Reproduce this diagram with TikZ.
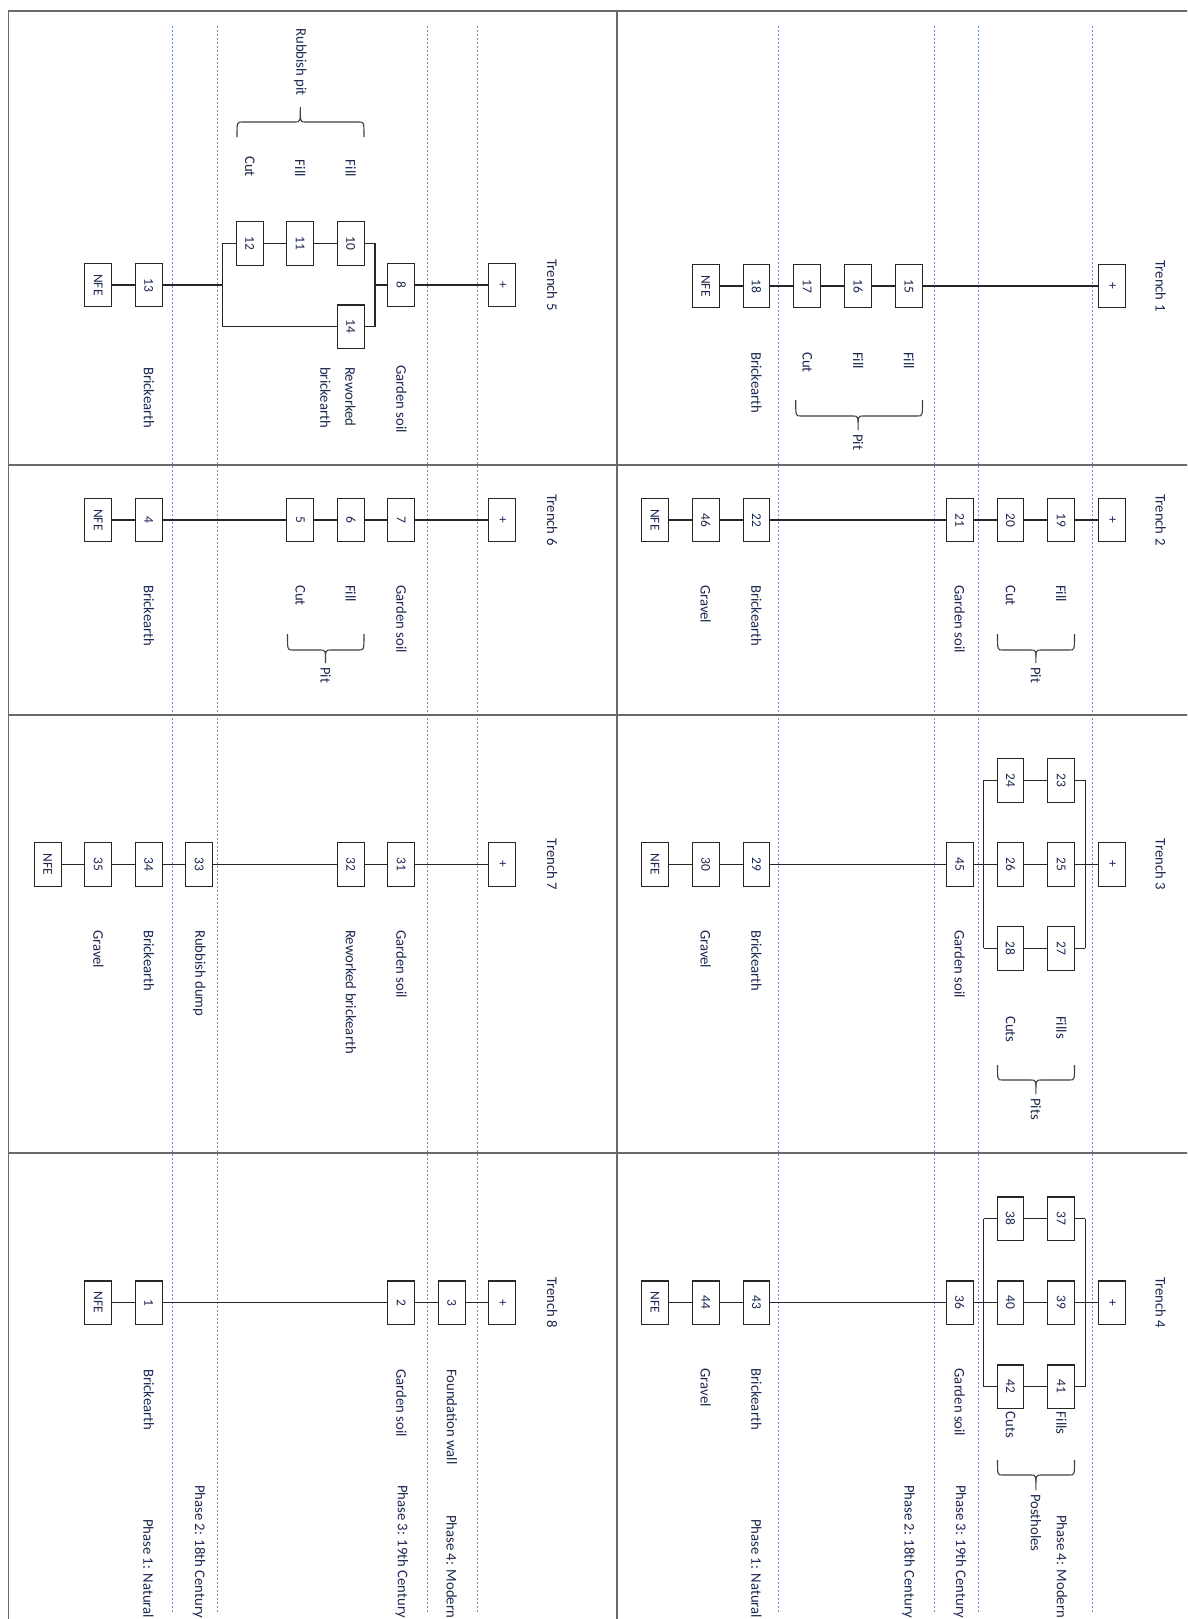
\documentclass[tikz,border=0pt]{standalone}
\usepackage{fontspec}
\setmainfont{Carlito}
\definecolor{txt}{RGB}{30,40,80}
\definecolor{gridc}{RGB}{105,105,105}
\definecolor{phc}{RGB}{120,145,190}
\tikzset{
 unit/.style={draw=black!85, line width=1.1pt, fill=white, rotate=-90, minimum width=43.5pt, minimum height=26.8pt, inner sep=0pt, font=\fontsize{13.5}{16}\selectfont, text=txt},
 lbl/.style={rotate=-90, anchor=west, inner sep=0pt, font=\fontsize{14.7}{17}\selectfont, text=txt},
 lble/.style={lbl, anchor=east},
 ttl/.style={rotate=-90, inner sep=0pt, font=\fontsize{14.7}{17}\selectfont, text=txt},
 conn/.style={draw=black!85, line width=1.1pt},
 brc/.style={draw=black!75, line width=1.1pt},
 phline/.style={draw=phc, line width=1.1pt, dash pattern=on 2.2pt off 1.8pt},
 gridline/.style={draw=gridc, line width=1.6pt},
}
% x1 xm x2 ytip yline ypeak
\newcommand{\mybrace}[6]{%
 \draw[brc] (#1,#4) .. controls (#1,#5) .. (#1+5,#5) -- (#2-5,#5) .. controls (#2,#5) .. (#2,#6) .. controls (#2,#5) .. (#2+5,#5) -- (#3-5,#5) .. controls (#3,#5) .. (#3,#4);}
\begin{document}
\begin{tikzpicture}[x=1pt,y=-1pt]
\useasboundingbox (0,0) rectangle (1187,1619);
\clip (0,0) rectangle (1187,1619);
\fill[white] (0,0) rectangle (1187,1619);
% phase lines
\foreach \x in {172.2,217.4,427.4,477.6,778.7,934.9,978.9,1092.9}
  \draw[phline] (\x,26) -- (\x,1612);
% table grid
\draw[gridline] (8.4,11) -- (1190,11);
\draw[gridline] (8.4,11) -- (8.4,1622);
\draw[gridline] (617,11) -- (617,1622);
\draw[gridline] (8.4,465) -- (1190,465);
\draw[gridline] (8.4,715) -- (1190,715);
\draw[gridline] (8.4,1153) -- (1190,1153);

% ================= Trench 1 =================
\node[unit] (a-nfe) at (705.7,286) {NFE};
\node[unit] (a18) at (756.5,286) {18};
\node[unit] (a17) at (807.3,286) {17};
\node[unit] (a16) at (858.1,286) {16};
\node[unit] (a15) at (908.9,286) {15};
\node[unit] (a-top) at (1112.1,286) {+};
\node[ttl] (a-ttl) at (1160.7,286) {Trench 1};
\draw[conn] (a-nfe) -- (a18) -- (a17) -- (a16) -- (a15) -- (a-top);
\node[lbl] (a-l1) at (756.5,352) {Brickearth};
\node[lbl] (a-l2) at (807.3,352) {Cut};
\node[lbl] (a-l3) at (858.1,352) {Fill};
\node[lbl] (a-l4) at (908.9,352) {Fill};
\mybrace{795.7}{858.1}{922.5}{400}{416}{430}
\node[lbl] (a-pit) at (858.1,434) {Pit};

% ================= Trench 2 =================
\node[unit] (b-nfe) at (654.9,520) {NFE};
\node[unit] (b46) at (705.7,520) {46};
\node[unit] (b22) at (756.5,520) {22};
\node[unit] (b21) at (959.7,520) {21};
\node[unit] (b20) at (1010.5,520) {20};
\node[unit] (b19) at (1061.3,520) {19};
\node[unit] (b-top) at (1112.1,520) {+};
\node[ttl] (b-ttl) at (1160.7,520) {Trench 2};
\draw[conn] (b-nfe) -- (b46) -- (b22) -- (b21) -- (b20) -- (b19) -- (b-top);
\node[lbl] (b-l1) at (705.7,585) {Gravel};
\node[lbl] (b-l2) at (756.5,585) {Brickearth};
\node[lbl] (b-l3) at (959.7,585) {Garden soil};
\node[lbl] (b-l4) at (1010.5,585) {Cut};
\node[lbl] (b-l5) at (1061.3,585) {Fill};
\mybrace{997.5}{1035.9}{1074.5}{634}{650}{663}
\node[lbl] (b-pit) at (1035.9,667) {Pit};

% ================= Trench 3 =================
\node[unit] (c-nfe) at (654.9,864.3) {NFE};
\node[unit] (c30) at (705.7,864.3) {30};
\node[unit] (c29) at (756.5,864.3) {29};
\node[unit] (c45) at (959.7,864.3) {45};
\node[unit] (c26) at (1010.5,864.3) {26};
\node[unit] (c25) at (1061.3,864.3) {25};
\node[unit] (c-top) at (1112.1,864.3) {+};
\node[unit] (c24) at (1010.5,780.3) {24};
\node[unit] (c23) at (1061.3,780.3) {23};
\node[unit] (c28) at (1010.5,948.3) {28};
\node[unit] (c27) at (1061.3,948.3) {27};
\node[ttl] (c-ttl) at (1160.7,864.3) {Trench 3};
\coordinate (c-la) at (983.8,780.3);
\coordinate (c-lb) at (983.8,948.3);
\coordinate (c-ra) at (1085.4,780.3);
\coordinate (c-rb) at (1085.4,948.3);
\draw[conn] (c-nfe) -- (c30) -- (c29) -- (c45) -- (c26) -- (c25) -- (c-top);
\draw[conn] (c-la) -- (c-lb);
\draw[conn] (c-ra) -- (c-rb);
\draw[conn] (c-la) -- (c24) -- (c23) -- (c-ra);
\draw[conn] (c-lb) -- (c28) -- (c27) -- (c-rb);
\node[lbl] (c-l1) at (705.7,930) {Gravel};
\node[lbl] (c-l2) at (756.5,930) {Brickearth};
\node[lbl] (c-l3) at (959.7,930) {Garden soil};
\node[lbl] (c-l4) at (1010.5,1016) {Cuts};
\node[lbl] (c-l5) at (1061.3,1016) {Fills};
\mybrace{997.5}{1035.9}{1074.5}{1065}{1080}{1094}
\node[lbl] (c-pit) at (1035.9,1098) {Pits};

% ================= Trench 4 =================
\node[unit] (d-nfe) at (654.9,1302.7) {NFE};
\node[unit] (d44) at (705.7,1302.7) {44};
\node[unit] (d43) at (756.5,1302.7) {43};
\node[unit] (d36) at (959.7,1302.7) {36};
\node[unit] (d40) at (1010.5,1302.7) {40};
\node[unit] (d39) at (1061.3,1302.7) {39};
\node[unit] (d-top) at (1112.1,1302.7) {+};
\node[unit] (d38) at (1010.5,1218.7) {38};
\node[unit] (d37) at (1061.3,1218.7) {37};
\node[unit] (d42) at (1010.5,1386.7) {42};
\node[unit] (d41) at (1061.3,1386.7) {41};
\node[ttl] (d-ttl) at (1160.7,1302.7) {Trench 4};
\coordinate (d-la) at (983.8,1218.7);
\coordinate (d-lb) at (983.8,1386.7);
\coordinate (d-ra) at (1085.4,1218.7);
\coordinate (d-rb) at (1085.4,1386.7);
\draw[conn] (d-nfe) -- (d44) -- (d43) -- (d36) -- (d40) -- (d39) -- (d-top);
\draw[conn] (d-la) -- (d-lb);
\draw[conn] (d-ra) -- (d-rb);
\draw[conn] (d-la) -- (d38) -- (d37) -- (d-ra);
\draw[conn] (d-lb) -- (d42) -- (d41) -- (d-rb);
\node[lbl] (d-l1) at (705.7,1368.5) {Gravel};
\node[lbl] (d-l2) at (756.5,1368.5) {Brickearth};
\node[lbl] (d-l3) at (959.7,1368.5) {Garden soil};
\node[lbl] (d-l4) at (1010.5,1411.7) {Cuts};
\node[lbl] (d-l5) at (1061.3,1411.7) {Fills};
\mybrace{997.5}{1035.9}{1074.5}{1460}{1475}{1490}
\node[lbl] (d-pit) at (1035.9,1494) {Postholes};
\node[lbl] (d-p1) at (756.5,1519) {Phase 1: Natural};
\node[lbl] (d-p2) at (908.5,1485) {Phase 2: 18th Century};
\node[lbl] (d-p3) at (960,1485) {Phase 3: 19th Century};
\node[lbl] (d-p4) at (1062,1515) {Phase 4: Modern};

% ================= Trench 5 =================
\node[unit] (e-nfe) at (98.3,285) {NFE};
\node[unit] (e13) at (148.8,285) {13};
\node[unit] (e12) at (249.8,243.3) {12};
\node[unit] (e11) at (300.3,243.3) {11};
\node[unit] (e10) at (350.8,243.3) {10};
\node[unit] (e14) at (350.8,326.7) {14};
\node[unit] (e8) at (401.3,285) {8};
\node[unit] (e-top) at (502.3,285) {+};
\node[ttl] (e-ttl) at (552.2,285) {Trench 5};
\coordinate (e-l) at (222.7,285);
\coordinate (e-la) at (222.7,243.3);
\coordinate (e-lb) at (222.7,326.7);
\coordinate (e-r) at (375,285);
\coordinate (e-ra) at (375,243.3);
\coordinate (e-rb) at (375,326.7);
\draw[conn] (e-nfe) -- (e13) -- (e-l);
\draw[conn] (e-la) -- (e-lb);
\draw[conn] (e-ra) -- (e-rb);
\draw[conn] (e-la) -- (e12) -- (e11) -- (e10) -- (e-ra);
\draw[conn] (e-lb) -- (e14) -- (e-rb);
\draw[conn] (e-r) -- (e8) -- (e-top);
\node[lbl] (e-l1) at (148.8,367) {Brickearth};
\node[lbl] (e-l2) at (350.4,367) {Reworked};
\node[lbl] (e-l2b) at (325.5,367) {brickearth};
\node[lbl] (e-l3) at (401.3,365) {Garden soil};
\node[lble] (e-u1) at (249.8,177) {Cut};
\node[lble] (e-u2) at (300.3,177) {Fill};
\node[lble] (e-u3) at (350.8,177) {Fill};
\mybrace{237}{300.3}{364}{137}{122}{107}
\node[lble] (e-pit) at (300.3,96) {Rubbish pit};

% ================= Trench 6 =================
\node[unit] (f-nfe) at (98.3,520) {NFE};
\node[unit] (f4) at (148.8,520) {4};
\node[unit] (f5) at (300.3,520) {5};
\node[unit] (f6) at (350.8,520) {6};
\node[unit] (f7) at (401.3,520) {7};
\node[unit] (f-top) at (502.3,520) {+};
\node[ttl] (f-ttl) at (552.2,520) {Trench 6};
\draw[conn] (f-nfe) -- (f4) -- (f5) -- (f6) -- (f7) -- (f-top);
\node[lbl] (f-l1) at (148.8,585) {Brickearth};
\node[lbl] (f-l2) at (300.3,585) {Cut};
\node[lbl] (f-l3) at (350.8,585) {Fill};
\node[lbl] (f-l4) at (401.3,585) {Garden soil};
\mybrace{287.5}{325.5}{364}{634}{650}{663}
\node[lbl] (f-pit) at (325.5,667) {Pit};

% ================= Trench 7 =================
\node[unit] (g-nfe) at (47.8,864.3) {NFE};
\node[unit] (g35) at (98.3,864.3) {35};
\node[unit] (g34) at (148.8,864.3) {34};
\node[unit] (g33) at (199.3,864.3) {33};
\node[unit] (g32) at (350.8,864.3) {32};
\node[unit] (g31) at (401.3,864.3) {31};
\node[unit] (g-top) at (502.3,864.3) {+};
\node[ttl] (g-ttl) at (552.2,864.3) {Trench 7};
\draw[conn] (g-nfe) -- (g35) -- (g34) -- (g33) -- (g32) -- (g31) -- (g-top);
\node[lbl] (g-l1) at (98.3,930) {Gravel};
\node[lbl] (g-l2) at (148.8,930) {Brickearth};
\node[lbl] (g-l3) at (199.3,930) {Rubbish dump};
\node[lbl] (g-l4) at (350.8,930) {Reworked brickearth};
\node[lbl] (g-l5) at (401.3,930) {Garden soil};

% ================= Trench 8 =================
\node[unit] (h-nfe) at (98.3,1302.7) {NFE};
\node[unit] (h1) at (148.8,1302.7) {1};
\node[unit] (h2) at (401.3,1302.7) {2};
\node[unit] (h3) at (451.8,1302.7) {3};
\node[unit] (h-top) at (502.3,1302.7) {+};
\node[ttl] (h-ttl) at (552.2,1302.7) {Trench 8};
\draw[conn] (h-nfe) -- (h1) -- (h2) -- (h3) -- (h-top);
\node[lbl] (h-l1) at (148.8,1369) {Brickearth};
\node[lbl] (h-l2) at (401.3,1369) {Garden soil};
\node[lbl] (h-l3) at (451.8,1369) {Foundation wall};
\node[lbl] (h-p1) at (148.5,1519) {Phase 1: Natural};
\node[lbl] (h-p2) at (199,1485) {Phase 2: 18th Century};
\node[lbl] (h-p3) at (401.8,1485) {Phase 3: 19th Century};
\node[lbl] (h-p4) at (451.6,1515) {Phase 4: Modern};
\end{tikzpicture}
\end{document}
